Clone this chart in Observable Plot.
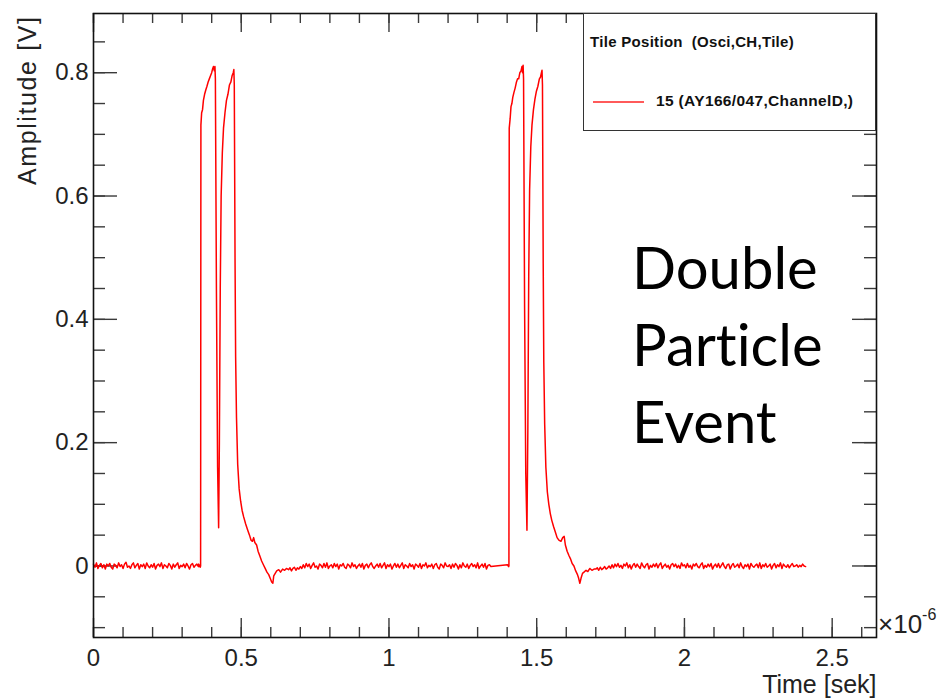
<!DOCTYPE html>
<html><head><meta charset="utf-8">
<script src="https://cdn.jsdelivr.net/npm/d3@7"></script>
<script src="https://cdn.jsdelivr.net/npm/@observablehq/plot@0.6"></script>
<style>
body{margin:0;background:#fff;}
#wrap{position:relative;width:942px;height:700px;font-family:"Liberation Sans",Arial,sans-serif;overflow:hidden;}
#wrap svg{position:absolute;left:0;top:0;}
#legend{position:absolute;left:583px;top:13px;width:293px;height:118px;border:1.5px solid #333;box-sizing:border-box;background:#fff;}
#legTitle{position:absolute;left:6px;top:19px;font-size:15px;font-weight:bold;color:#111;white-space:pre;letter-spacing:0.3px;}
#legLine{position:absolute;left:9px;top:87px;width:51px;height:2px;background:#ff5a5a;}
#legText{position:absolute;left:72px;top:78px;font-size:15.5px;font-weight:bold;color:#111;white-space:pre;letter-spacing:0.35px;}
#expo{position:absolute;left:878px;top:609px;font-size:26px;color:#222;white-space:pre;}
#expo sup{font-size:16px;position:relative;top:-3px;}
#big{position:absolute;left:632px;top:228px;font-family:Lato,"Open Sans",sans-serif;font-size:58px;line-height:77px;color:#000;font-variant-ligatures:none;font-feature-settings:"liga" 0;}
</style></head><body><div id="wrap"></div>
<script>
// ---- data (time in microseconds, amplitude in volts) ----
const noiseStartA = 0.00, noiseStartB = 0.66, noiseStartC = 1.70, noiseStep = 0.005;
const noiseA_mV = [3,-2,5,-4,1,4,-3,2,-5,3, 0,4,-2,-5,3,1,-3,5,-1,2, -4,3,6,-2,0,-4,2,5,-3,1,
  4,-5,2,-1,3,-4,5,0,-3,2, -2,4,-5,1,3,-1,5,-4,2,0, -3,4,1,-5,3,-2,2,5,-4,1, -1,3,-3,4,0,-5,2,4,-2,1, 3,-1];
const noiseB_mV = [-6,-3,-8,-4,-2,-7,-3,-5,-1,-4, 2,-3,4,-1,3,-4,1,5,-2,0, -5,3,1,-3,4,-2,5,-4,0,2,
  -3,4,-1,3,-5,2,0,4,-2,-4, 3,1,-3,5,-1,2,-4,0,3,-2, 4,-5,1,3,-3,2,5,-1,-4,0, 3,-2,4,-3,1,5,-4,2,-1,3,
  -5,0,4,-2,3,-3,1,5,-4,2, 0,-3,4,-1,2,-5,3,1,-2,4, -4,2,0,5,-3,1,-1,3,-4,2, 4,-2,-5,3,1,-3,5,0,-1,2,
  -4,3,-2,4,1,-5,2,-3,5,0, -2,3,-4,1,4,-1,2,-3,5,-4, 0,3,-2,4,-5,1,2,-1];
const noiseC_mV = [-5,-3,-7,-2,-6,-4,-1,-5,-3,0, -4,2,-3,3,-1,4,-2,1,-4,3, 0,5,-3,2,-5,1,4,-2,3,-1,
  -4,5,0,-3,2,4,-5,1,-2,3, -1,4,-3,2,5,-4,0,3,-2,1, -5,2,4,-1,3,-3,1,-4,5,0, 2,-3,4,-2,1,-5,3,0,4,-1,
  -3,2,5,-4,1,-2,3,-1,4,-5, 0,3,-2,4,-3,1,5,-1,-4,2, 3,-5,1,4,-2,0,3,-3,5,-1, -4,2,-1,3,-5,4,0,-2,1,3,
  -3,5,-4,2,-1,4,-2,0,3,-5, 1,4,-3,2,-1,5,-4,3,0,-2, 2,-3,1,4,-1,0,2,-2,1,-1, 3,0,-1];

const pulse1T = [0.356,0.361,0.3625,0.3635,0.366,0.369,0.372,0.376,0.380,0.384,0.388,0.392,0.396,0.400,0.403,0.406,0.409,0.411,0.4125,
  0.416,0.420,0.4235,0.426,0.429,0.432,0.436,0.440,0.445,0.450,0.455,0.460,0.465,0.469,0.473,0.475,0.4765,
  0.479,0.481,0.484,0.488,0.493,0.498,0.503,0.508,0.515,0.522,0.528,0.533,0.538,0.542,0.546,0.552,0.557,0.563,0.569,
  0.575,0.581,0.587,0.593,0.598,0.603,0.607,0.610,0.615,0.620,0.627,0.633,0.640,0.647,0.653];
const pulse1V = [0.003,-0.002,0.0,0.715,0.735,0.74,0.755,0.765,0.772,0.778,0.785,0.79,0.795,0.80,0.806,0.81,0.803,0.81,0.79,
  0.45,0.16,0.062,0.20,0.45,0.60,0.67,0.71,0.735,0.755,0.765,0.78,0.785,0.795,0.80,0.805,0.78,
  0.50,0.34,0.24,0.165,0.125,0.105,0.09,0.08,0.068,0.058,0.05,0.042,0.04,0.046,0.038,0.034,0.024,0.016,0.008,
  0.002,-0.004,-0.01,-0.014,-0.02,-0.026,-0.028,-0.016,-0.012,-0.008,-0.006,-0.01,-0.005,-0.007,-0.004];

const pulse2T = [1.401,1.405,1.406,1.407,1.410,1.413,1.416,1.419,1.423,1.427,1.431,1.435,1.439,1.443,1.447,1.450,1.452,1.454,1.4555,
  1.459,1.463,1.467,1.470,1.473,1.476,1.480,1.484,1.489,1.494,1.499,1.504,1.509,1.513,1.516,1.518,1.5195,
  1.522,1.524,1.527,1.531,1.536,1.541,1.546,1.551,1.557,1.563,1.569,1.575,1.582,1.588,1.593,1.597,1.603,1.609,1.614,
  1.620,1.626,1.632,1.638,1.642,1.646,1.650,1.655,1.660,1.667,1.673,1.680,1.687,1.694];
const pulse2V = [0.002,-0.001,0.0,0.71,0.725,0.745,0.75,0.76,0.768,0.775,0.784,0.79,0.79,0.80,0.803,0.81,0.80,0.812,0.79,
  0.42,0.15,0.058,0.22,0.47,0.61,0.68,0.715,0.74,0.757,0.77,0.778,0.79,0.793,0.80,0.804,0.78,
  0.49,0.33,0.23,0.16,0.12,0.10,0.085,0.074,0.064,0.055,0.046,0.042,0.04,0.046,0.048,0.034,0.024,0.017,0.012,
  0.004,0.0,-0.008,-0.014,-0.02,-0.028,-0.02,-0.012,-0.01,-0.007,-0.009,-0.004,-0.007,-0.005];

const xMajor = [0,0.5,1,1.5,2,2.5];
const xMinor = [0,0.1,0.2,0.3,0.4,0.5,0.6,0.7,0.8,0.9,1,1.1,1.2,1.3,1.4,1.5,1.6,1.7,1.8,1.9,2,2.1,2.2,2.3,2.4,2.5,2.6];
const yMajor = [0,0.2,0.4,0.6,0.8];
const yMinor = [-0.1,-0.05,0,0.05,0.1,0.15,0.2,0.25,0.3,0.35,0.4,0.45,0.5,0.55,0.6,0.65,0.7,0.75,0.8,0.85];

const xLabel = "Time [sek]";
const yLabel = "Amplitude [V]";
const legendTitle = "Tile Position  (Osci,CH,Tile)";
const seriesName = "15 (AY166/047,ChannelD,)";
const annotation = ["Double", "Particle", "Event"];

// ---- build trace ----
const trace = [];
noiseA_mV.forEach((v, i) => trace.push({t: noiseStartA + i * noiseStep, v: v / 1000}));
pulse1T.forEach((t, i) => trace.push({t, v: pulse1V[i]}));
noiseB_mV.forEach((v, i) => trace.push({t: noiseStartB + i * noiseStep, v: v / 1000}));
pulse2T.forEach((t, i) => trace.push({t, v: pulse2V[i]}));
noiseC_mV.forEach((v, i) => trace.push({t: noiseStartC + i * noiseStep, v: v / 1000}));

const W = 942, H = 700, mL = 93, mR = 66, mT = 13, mB = 63;
const fW = W - mL - mR, fH = H - mT - mB;
const tickCol = "#3a3a3a";
const fmt = d3.format("~g");

const chart = Plot.plot({
  width: W, height: H,
  marginLeft: mL, marginRight: mR, marginTop: mT, marginBottom: mB,
  style: {fontFamily: '"Liberation Sans", Arial, sans-serif', color: "#222", background: "white"},
  x: {domain: [0, 2.65], label: null},
  y: {domain: [-0.116, 0.896], label: null},
  marks: [
    Plot.ruleX(xMinor, {x: d => d, insetTop: fH - 10, stroke: tickCol, strokeWidth: 1.4}),
    Plot.ruleX(xMinor, {x: d => d, insetBottom: fH - 10, stroke: tickCol, strokeWidth: 1.4}),
    Plot.ruleX(xMajor, {x: d => d, insetTop: fH - 19, stroke: tickCol, strokeWidth: 1.4}),
    Plot.ruleX(xMajor, {x: d => d, insetBottom: fH - 19, stroke: tickCol, strokeWidth: 1.4}),
    Plot.ruleY(yMinor, {y: d => d, insetRight: fW - 12, stroke: tickCol, strokeWidth: 1.4}),
    Plot.ruleY(yMinor, {y: d => d, insetLeft: fW - 12, stroke: tickCol, strokeWidth: 1.4}),
    Plot.ruleY(yMajor, {y: d => d, insetRight: fW - 24, stroke: tickCol, strokeWidth: 1.4}),
    Plot.ruleY(yMajor, {y: d => d, insetLeft: fW - 24, stroke: tickCol, strokeWidth: 1.4}),
    Plot.line(trace, {x: "t", y: "v", stroke: "#ff0000", strokeWidth: 1.5}),
    Plot.frame({stroke: "#111", strokeWidth: 1.6}),
    Plot.axisX(xMajor, {anchor: "bottom", tickSize: 0, tickPadding: 11, fontSize: 24, fill: "#222", tickFormat: fmt}),
    Plot.axisY(yMajor, {anchor: "left", tickSize: 0, tickPadding: 5, fontSize: 24, fill: "#222", tickFormat: fmt}),
    Plot.text([xLabel], {frameAnchor: "bottom-right", text: d => d, textAnchor: "end", lineAnchor: "middle", dy: 47, fontSize: 25, fill: "#222"}),
    Plot.text([yLabel], {frameAnchor: "top-left", text: d => d, textAnchor: "end", lineAnchor: "middle", rotate: -90, dx: -66, dy: 2, fontSize: 25, fill: "#222"})
  ]
});

const wrap = document.getElementById("wrap");
wrap.appendChild(chart);
// letter spacing for the rotated axis title
chart.querySelectorAll("text").forEach(t => { if (t.textContent === yLabel) t.setAttribute("letter-spacing", "1.6"); });

const legend = document.createElement("div");
legend.id = "legend";
legend.innerHTML = `<div id="legTitle"></div><div id="legLine"></div><div id="legText"></div>`;
wrap.appendChild(legend);
document.getElementById("legTitle").textContent = legendTitle;
document.getElementById("legText").textContent = seriesName;

const expo = document.createElement("div");
expo.id = "expo";
expo.innerHTML = "×10<sup>-6</sup>";
wrap.appendChild(expo);

const big = document.createElement("div");
big.id = "big";
big.innerHTML = annotation.join("<br>");
wrap.appendChild(big);
</script>
</body></html>
